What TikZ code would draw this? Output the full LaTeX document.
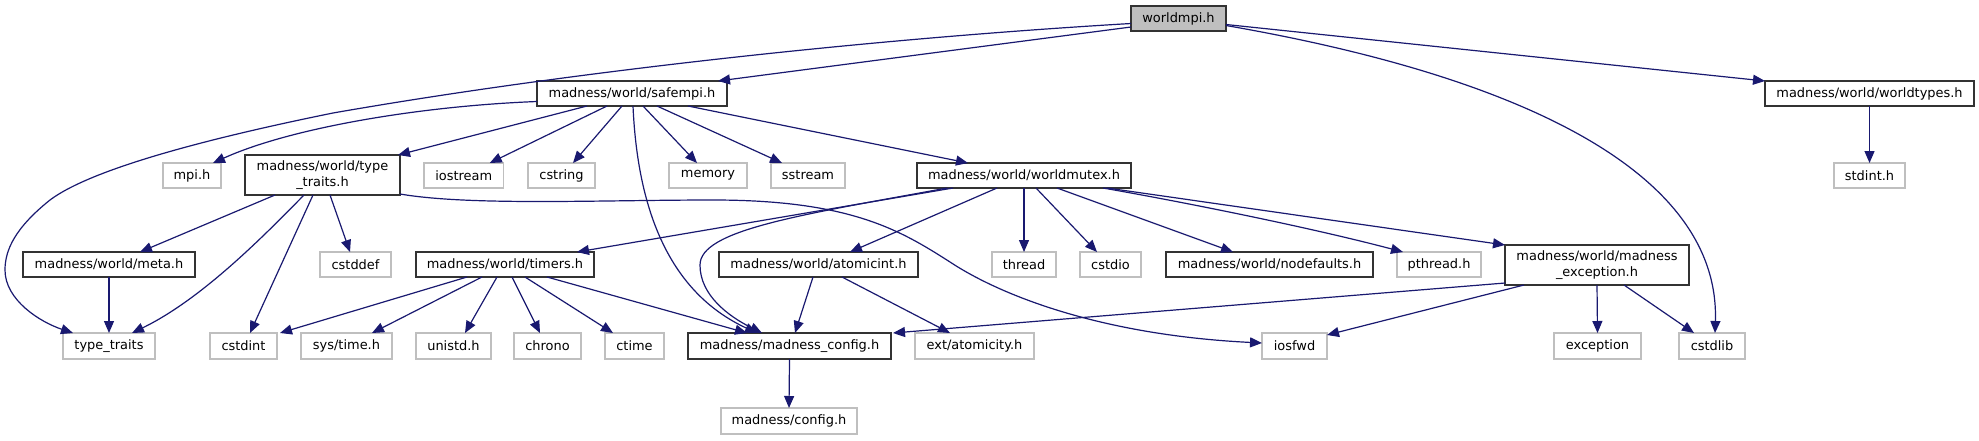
\documentclass[tikz,border=0pt]{standalone}
\usepackage{fontspec}
\setmainfont{DejaVu Sans}
\usetikzlibrary{arrows.meta,calc}
\definecolor{edgeblue}{HTML}{191970}
\definecolor{greyline}{HTML}{BFBFBF}
\definecolor{rootfill}{HTML}{BFBFBF}
\definecolor{darkline}{HTML}{333333}
\newcommand{\mkbox}[7]{%
  \pgfmathsetmacro{\myBW}{(#5-#3)*0.75}%
  \pgfmathsetmacro{\myBH}{(#6-#4)*0.75}%
  \pgfmathsetmacro{\myCX}{(#3+#5)/2}%
  \pgfmathsetmacro{\myCY}{(#4+#6)/2}%
  \node[#2, minimum width=\myBW pt, minimum height=\myBH pt] (#1) at (\myCX,\myCY) {#7};}
\begin{document}
\begin{tikzpicture}[x=0.75pt,y=-0.75pt,
  box/.style={draw=darkline, line width=0.9pt, fill=white, inner sep=0pt, outer sep=0pt,
    font=\fontsize{9.7}{11.8}\selectfont, align=center, text=black},
  gbox/.style={box, draw=greyline},
  rbox/.style={box, fill=rootfill},
  dep/.style={draw=edgeblue, line width=0.9pt, -{Triangle[length=9pt,width=7.5pt]}}]
\path[use as bounding box, fill=white] (0,0) rectangle (1979,440);
% rank 0
\mkbox{wmpi}{rbox}{1131}{6}{1226}{31}{worldmpi.h}
% rank 1
\mkbox{safempi}{box}{537}{81}{727}{106}{madness/world/safempi.h}
\mkbox{wtypes}{box}{1765}{81}{1974}{106}{madness/world/worldtypes.h}
% rank 2
\mkbox{mpi}{gbox}{163}{163}{221}{188}{mpi.h}
\mkbox{tth}{box}{245}{155}{400}{195}{madness/world/type\\\_traits.h}
\mkbox{iostream}{gbox}{424}{163}{503.5}{188}{iostream}
\mkbox{cstring}{gbox}{528}{163}{595}{188}{cstring}
\mkbox{memory}{gbox}{669}{163}{747}{188}{memory}
\mkbox{sstream}{gbox}{771}{163}{845}{188}{sstream}
\mkbox{wmutex}{box}{917}{163}{1131}{188}{madness/world/worldmutex.h}
\mkbox{stdint}{gbox}{1834}{163}{1905}{188}{stdint.h}
% rank 3
\mkbox{meta}{box}{23}{252}{195}{277}{madness/world/meta.h}
\mkbox{cstddef}{gbox}{320}{252}{391}{277}{cstddef}
\mkbox{timers}{box}{416}{252}{594}{277}{madness/world/timers.h}
\mkbox{atomicint}{box}{719}{252}{918}{277}{madness/world/atomicint.h}
\mkbox{thread}{gbox}{992}{252}{1056}{277}{thread}
\mkbox{cstdio}{gbox}{1080}{252}{1141}{277}{cstdio}
\mkbox{nodefaults}{box}{1166}{252}{1373}{277}{madness/world/nodefaults.h}
\mkbox{pthread}{gbox}{1397}{252}{1481}{277}{pthread.h}
\mkbox{mexc}{box}{1505}{245}{1689}{285}{madness/world/madness\\\_exception.h}
% rank 4
\mkbox{tt}{gbox}{63}{333}{155}{359}{type\_traits}
\mkbox{cstdint}{gbox}{210}{333}{277}{359}{cstdint}
\mkbox{systime}{gbox}{301}{333}{392}{359}{sys/time.h}
\mkbox{unistd}{gbox}{416}{333}{491}{359}{unistd.h}
\mkbox{chrono}{gbox}{514}{333}{581}{359}{chrono}
\mkbox{ctime}{gbox}{605}{333}{664}{359}{ctime}
\mkbox{mconfig}{box}{688}{333}{891}{359}{madness/madness\_config.h}
\mkbox{extatom}{gbox}{915}{333}{1034}{359}{ext/atomicity.h}
\mkbox{iosfwd}{gbox}{1262}{333}{1327}{359}{iosfwd}
\mkbox{exception}{gbox}{1554}{333}{1641}{359}{exception}
\mkbox{cstdlib}{gbox}{1679}{333}{1745}{359}{cstdlib}
% rank 5
\mkbox{config}{gbox}{721}{408}{857}{434}{madness/config.h}
% edges from worldmpi.h
\draw[dep] ($(wmpi.west)+(0,8.5)$) -- ($(safempi.north)+(86,0)$);
\draw[dep] ($(wmpi.west)+(0,5)$) .. controls (850,40) and (550,75) .. (333,113)
  .. controls (200,140) and (90,170) .. (50,200)
  .. controls (15,228) and (5,250) .. (5,270)
  .. controls (5,300) and (40,322) .. ($(tt.north)+(-36,0)$);
\draw[dep] ($(wmpi.east)+(0,6)$) -- (wtypes.north west);
\draw[dep] ($(wmpi.east)+(0,7)$) .. controls (1540,80) and (1720,180) .. ($(cstdlib.north)+(3,0)$);
% edges from safempi.h
\draw[dep] ($(safempi.west)+(0,8)$) .. controls (420,106) and (290,128) .. ($(mpi.north)+(21,0)$);
\draw[dep] ($(safempi.south)+(-45,0)$) -- ($(tth.north east)+(-2,0)$);
\draw[dep] ($(safempi.south)+(-25,0)$) -- ($(iostream.north)+(26,0)$);
\draw[dep] ($(safempi.south)+(-10,0)$) -- ($(cstring.north)+(11.5,0)$);
\draw[dep] ($(safempi.south)+(1,0)$) .. controls (638,220) and (675,295) .. ($(mconfig.north)+(-32.5,0)$);
\draw[dep] ($(safempi.south)+(11,0)$) -- ($(memory.north)+(-11,0)$);
\draw[dep] ($(safempi.south)+(25,0)$) -- ($(sstream.north)+(-26,0)$);
\draw[dep] ($(safempi.south)+(56,0)$) -- ($(wmutex.north)+(-56,0)$);
% edges from type_traits.h
\draw[dep] ($(tth.south)+(-47.5,0)$) -- ($(meta.north)+(31,0)$);
\draw[dep] ($(tth.south)+(-18.5,0)$) .. controls (260,240) and (200,300) .. ($(tt.north)+(23,0)$);
\draw[dep] ($(tth.south)+(-9.5,0)$) -- ($(cstdint.north)+(6.5,0)$);
\draw[dep] ($(tth.south)+(7.5,0)$) -- ($(cstddef.north)+(-5.5,0)$);
\draw[dep] ($(tth.south east)+(0,-1)$) .. controls (470,206) and (600,200) .. (713,200)
  .. controls (850,200) and (900,230) .. (950,262)
  .. controls (1000,295) and (1100,335) .. ($(iosfwd.west)+(0,-3)$);
% meta, worldtypes
\draw[dep] (meta.south) -- (tt.north);
\draw[dep] (wtypes.south) -- (stdint.north);
% edges from worldmutex.h
\draw[dep] ($(wmutex.south)+(-71,0)$) -- ($(timers.north)+(72,0)$);
\draw[dep] ($(wmutex.south)+(-77,0)$) .. controls (800,215) and (700,230) .. (700,265)
  .. controls (700,295) and (728,316) .. ($(mconfig.north)+(-27.5,0)$);
\draw[dep] ($(wmutex.south)+(-27,0)$) -- ($(atomicint.north)+(31.5,0)$);
\draw[dep] (wmutex.south) -- (thread.north);
\draw[dep] ($(wmutex.south)+(12,0)$) -- ($(cstdio.north)+(-13.5,0)$);
\draw[dep] ($(wmutex.south)+(33,0)$) -- ($(nodefaults.north)+(-36.5,0)$);
\draw[dep] ($(wmutex.south)+(79,0)$) .. controls (1200,205) and (1320,230) .. ($(pthread.north)+(-36,0)$);
\draw[dep] ($(wmutex.south)+(83,0)$) -- (mexc.north west);
% edges from timers.h
\draw[dep] ($(timers.south)+(-38,0)$) -- ($(cstdint.north)+(36.5,0)$);
\draw[dep] ($(timers.south)+(-23,0)$) -- ($(systime.north)+(25.5,0)$);
\draw[dep] ($(timers.south)+(-8,0)$) -- ($(unistd.north)+(11.5,0)$);
\draw[dep] ($(timers.south)+(7,0)$) -- ($(chrono.north)+(-7.5,0)$);
\draw[dep] ($(timers.south)+(20,0)$) -- ($(ctime.north)+(-21.5,0)$);
\draw[dep] ($(timers.south)+(42,0)$) -- ($(mconfig.north)+(-42.5,0)$);
% edges from atomicint.h
\draw[dep] ($(atomicint.south)+(-5.5,0)$) -- ($(mconfig.north)+(5.5,0)$);
\draw[dep] ($(atomicint.south)+(23.5,0)$) -- ($(extatom.north)+(-24.5,0)$);
% edges from madness_exception.h
\draw[dep] ($(mexc.south west)+(0,-2)$) -- ($(mconfig.north east)+(2,0)$);
\draw[dep] ($(mexc.south)+(-73,0)$) -- ($(iosfwd.north east)+(0,2)$);
\draw[dep] (mexc.south) -- (exception.north);
\draw[dep] ($(mexc.south)+(27,0)$) -- ($(cstdlib.north)+(-18,0)$);
% madness_config.h
\draw[dep] (mconfig.south) -- (config.north);
\end{tikzpicture}
\end{document}
